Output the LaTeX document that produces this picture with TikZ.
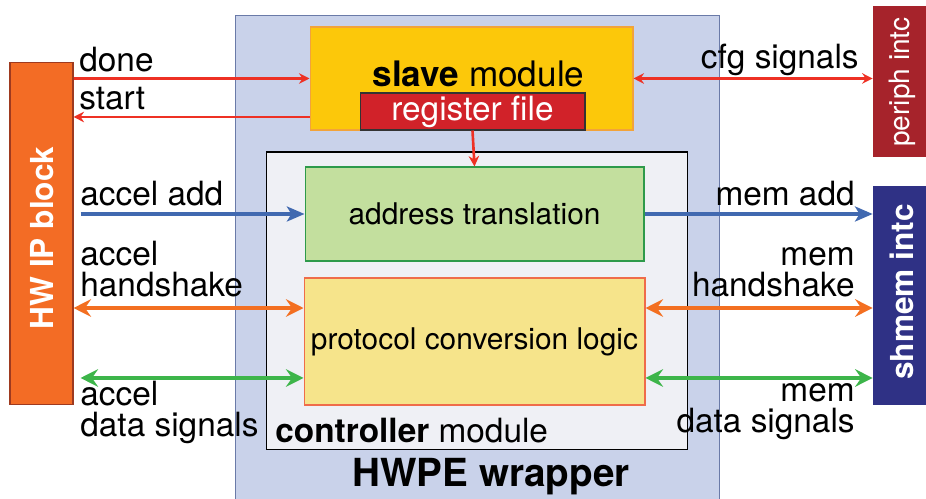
\documentclass[tikz,border=0pt]{standalone}
\usepackage{fontspec}
\setmainfont{TeX Gyre Heros}
\usetikzlibrary{arrows.meta,calc}

\definecolor{wrapfill}{HTML}{C9D2EA}
\definecolor{wrapline}{HTML}{6A7AA8}
\definecolor{ctrlfill}{HTML}{EFF0F5}
\definecolor{slavefill}{HTML}{FCC80A}
\definecolor{slaveline}{HTML}{F2A33A}
\definecolor{regfill}{HTML}{D12229}
\definecolor{addrfill}{HTML}{C3DF9E}
\definecolor{addrline}{HTML}{2E9A4A}
\definecolor{protfill}{HTML}{F6E48B}
\definecolor{protline}{HTML}{EF6C4A}
\definecolor{ipfill}{HTML}{F36C25}
\definecolor{ipline}{HTML}{9E3A1F}
\definecolor{perfill}{HTML}{A6232B}
\definecolor{shmfill}{HTML}{2F3185}
\definecolor{sigred}{HTML}{EE3124}
\definecolor{sigblue}{HTML}{4169B0}
\definecolor{sigorange}{HTML}{F36F21}
\definecolor{siggreen}{HTML}{3DB54A}

\tikzset{
  blk/.style={draw, line width=0.6pt, inner sep=0pt},
  lbl/.style={inner sep=0pt, font=\fontsize{19}{18}\selectfont},
  redline/.style={draw=sigred, line width=1.5pt, >={Stealth[length=6pt,width=6pt,inset=2pt]}},
  blueline/.style={draw=sigblue, line width=2.8pt, >={Stealth[length=10pt,width=8.5pt,inset=2.5pt]}},
  orangeline/.style={draw=sigorange, line width=2.3pt, >={Stealth[length=10pt,width=10pt,inset=3.5pt]}},
  greenline/.style={draw=siggreen, line width=2.3pt, >={Stealth[length=10pt,width=10pt,inset=3.5pt]}}
}

\begin{document}
\begin{tikzpicture}[x=0.02cm,y=-0.02cm]
\useasboundingbox (0,0) rectangle (926,499);

\node[blk, fill=wrapfill, draw=wrapline, minimum width=9.7cm, minimum height=10.3cm] (wrap) at (477.5,272.5) {};
\node[blk, fill=slavefill, draw=slaveline, minimum width=6.46cm, minimum height=2.06cm] (slave) at (471.5,78.5) {};
\node[blk, fill=regfill, draw=black!80, minimum width=4.5cm, minimum height=0.74cm, text=white, font=\fontsize{19}{18}\selectfont] (reg) at (472.5,111.5) {register file};
\node[font=\fontsize{20}{20}\selectfont, inner sep=0pt, anchor=base] (lslave) at (478.5,87) {\textbf{slave} module};
\node[blk, fill=ctrlfill, draw=black, minimum width=8.44cm, minimum height=5.96cm] (ctrl) at (477,301) {};
\node[blk, fill=addrfill, draw=addrline, minimum width=6.78cm, minimum height=1.88cm, font=\fontsize{17}{18}\selectfont] (addr) at (474.5,214) {address translation};
\node[blk, fill=protfill, draw=protline, minimum width=6.82cm, minimum height=2.54cm, font=\fontsize{17}{18}\selectfont] (prot) at (474.5,341.5) {protocol conversion logic};
\node[lbl, anchor=base west] (lctrl) at (275,443) {\textbf{controller} module};
\node[inner sep=0pt, font=\fontsize{22}{22}\selectfont\bfseries] (lwrap) at (491,477) {HWPE wrapper};

\node[blk, fill=ipfill, draw=ipline, minimum width=1.26cm, minimum height=6.86cm] (ip) at (41.5,233.5) {};
\node[rotate=90, text=white, inner sep=0pt, font=\fontsize{18}{18}\selectfont\bfseries] (lip) at (42,238) {HW IP block};
\node[fill=perfill, inner sep=0pt, minimum width=1.14cm, minimum height=3.02cm] (periph) at (901.5,81.5) {};
\node[rotate=90, text=white, inner sep=0pt, font=\fontsize{16}{16}\selectfont] (lper) at (902,82) {periph intc};
\node[fill=shmfill, inner sep=0pt, minimum width=1.14cm, minimum height=4.38cm] (shmem) at (901.5,295.5) {};
\node[rotate=90, text=white, inner sep=0pt, font=\fontsize{18}{18}\selectfont\bfseries] (lshm) at (902,292) {shmem intc};

\node[lbl, anchor=base west] (ldone) at (79,72) {done};
\node[lbl, anchor=base west] (lstart) at (79,110) {start};
\node[lbl, anchor=base east] (lcfg) at (859,69) {cfg signals};
\node[lbl, anchor=base west] (laadd) at (80,206) {accel add};
\node[lbl, anchor=base east] (lmadd) at (855,206) {mem add};
\node[lbl, anchor=base west, align=left] (lahs) at (80,297) {accel\\handshake};
\node[lbl, anchor=base east, align=right] (lmhs) at (855,297) {mem\\handshake};
\node[lbl, anchor=base west, align=left] (lads) at (80,437) {accel\\data signals};
\node[lbl, anchor=base east, align=right] (lmds) at (855,433) {mem\\data signals};

\draw[redline,->] (ip.east |- slave.west) -- (slave.west);
\coordinate (st) at ([yshift=-0.77cm]slave.west);
\draw[redline,->] (st) -- (st -| ip.east);
\draw[redline,<->] (slave.east) -- (slave.east -| periph.west);
\draw[redline,->] (reg.south) -- (addr.north);

\draw[blueline,->] ($(ip.east |- addr.west)+(7,0)$) -- (addr.west);
\draw[blueline,->] (addr.east) -- (addr.east -| shmem.west);

\coordinate (hs) at ([yshift=0.67cm]prot.west);
\draw[orangeline,<->] (hs -| ip.east) -- (hs);
\draw[orangeline,<->] (hs -| prot.east) -- (hs -| shmem.west);

\coordinate (ds) at ([yshift=-0.73cm]prot.west);
\draw[greenline,<->] ($(ds -| ip.east)+(7,0)$) -- (ds);
\draw[greenline,<->] (ds -| prot.east) -- (ds -| shmem.west);
\end{tikzpicture}
\end{document}
